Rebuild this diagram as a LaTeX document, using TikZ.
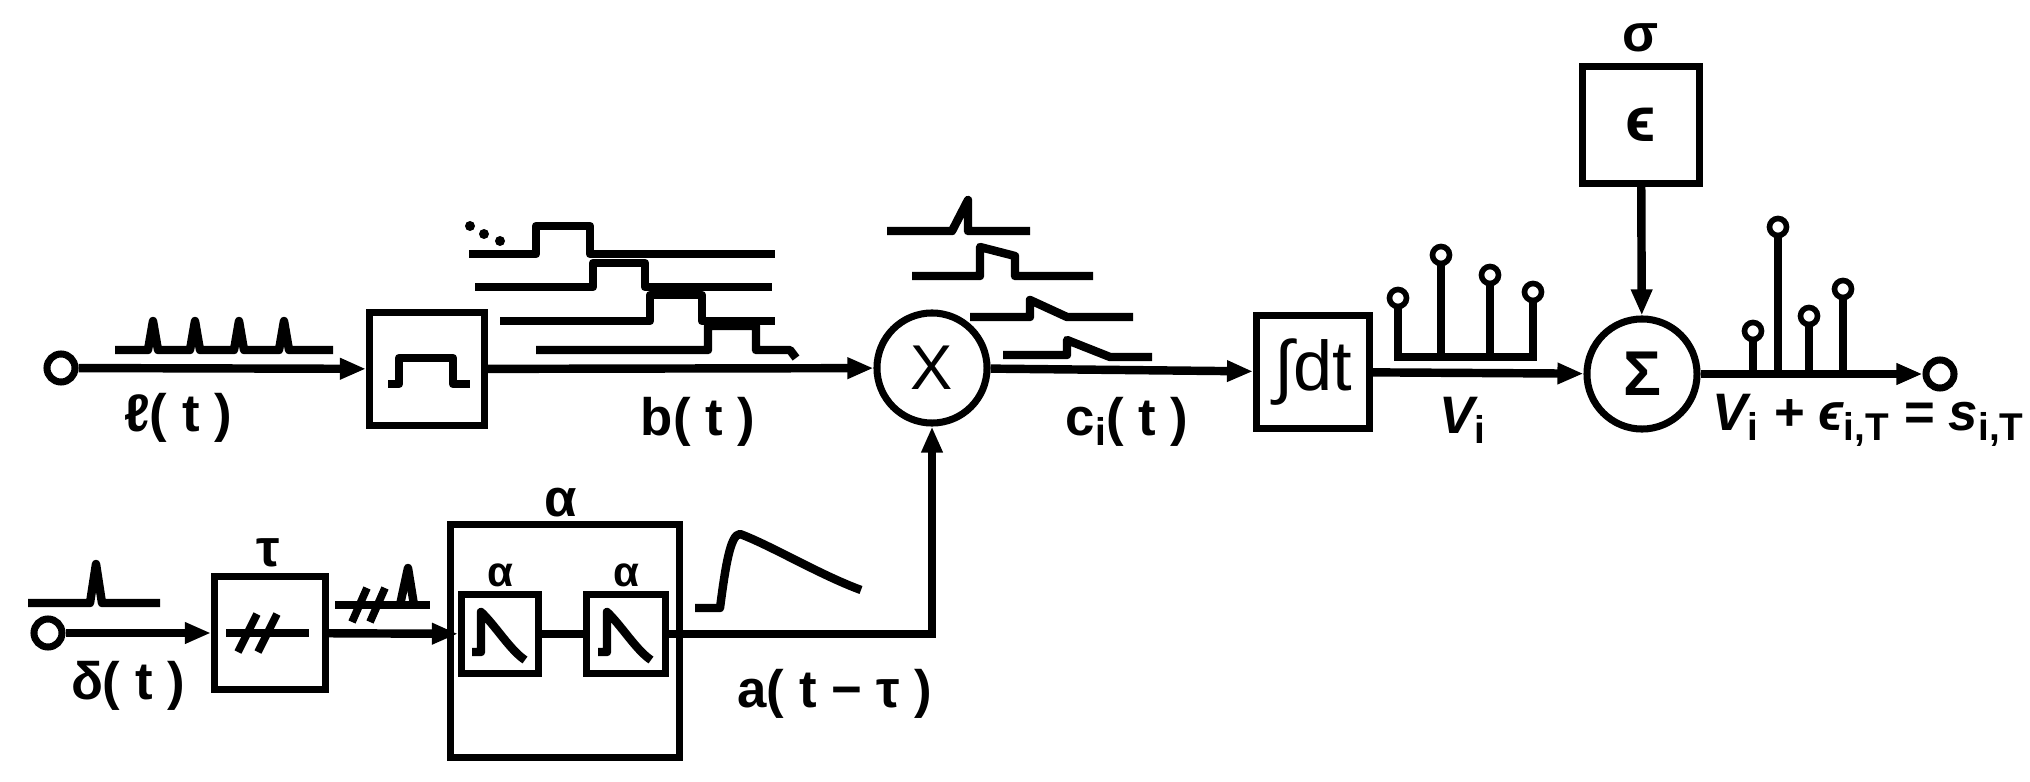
\documentclass[tikz,border=0pt]{standalone}
\usepackage{fontspec}
\setmainfont{Liberation Sans}
\usetikzlibrary{arrows.meta}
\newcommand{\sbs}[1]{\raisebox{-0.35ex}{\fontsize{11}{12}\selectfont\upshape #1}}
\begin{document}
\begin{tikzpicture}[x=0.01cm,y=-0.01cm,
  ln/.style={line width=2.2pt},
  wv/.style={line width=2.4pt,line join=round},
  arr/.style={line width=2.4pt,-{Triangle[length=0.26cm,width=0.2cm]}},
  box/.style={draw,line width=2pt,minimum width=#1,inner sep=0pt},
  rnd/.style={draw,circle,line width=2pt,inner sep=0pt,minimum size=#1},
  term/.style={draw,circle,line width=2pt,inner sep=0pt,minimum size=0.28cm},
  pin/.style={draw,circle,line width=1.6pt,inner sep=0pt,minimum size=0.17cm},
  lab/.style={font=\fontsize{15}{18}\selectfont\bfseries},
  slab/.style={font=\fontsize{12}{14}\selectfont\bfseries}]
\useasboundingbox (0,0) rectangle (2030,782);
% main path nodes
\node[term] (in) at (61,368) {};
\node[box=1.15cm,minimum height=1.12cm] (b1) at (427,369) {};
\node[rnd=1.1cm] (mul) at (932,368) {\fontsize{18}{22}\selectfont X};
\node[box=1.13cm,minimum height=1.12cm] (int) at (1313,372) {\fontsize{20}{24}\selectfont ∫dt};
\node[rnd=1.1cm] (sum) at (1642,374) {\fontsize{18}{22}\selectfont\bfseries Σ};
\node[term] (out) at (1940,374) {};
\node[box=1.17cm,minimum height=1.16cm] (eps) at (1641,125) {\fontsize{18}{22}\selectfont\bfseries ϵ};
\node[lab] (sig) at (1641,38) {σ};
\draw[arr] (in) -- (b1);
\draw[arr] (b1) -- (mul);
\draw[arr] (mul) -- (int);
\draw[arr] (int) -- (sum);
\draw[arr] (sum) -- (out);
\draw[arr] (eps) -- (sum);
% box1 icon
\draw[wv] (388,384) -- (399,384) -- (399,358) -- (453,358) -- (453,384) -- (470,384);
% labels
\node[lab] (lt) at (178,418) {ℓ( t )};
\node[lab] (bt) at (698,422) {b( t )};
\node[lab] (ct) at (1127,422) {c\sbs{i}( t )};
\node[lab] (vt) at (1462,420) {\itshape V\sbs{i}};
\node[lab,anchor=west] (ot) at (1700,420) {\itshape V\sbs{i} + ϵ\sbs{i,T} = s\sbs{i,T}};
% l(t) pulse train
\draw[wv] (115,350) -- (148,350) -- (153,321) -- (158,350) -- (190,350) -- (195,321) -- (200,350)
  -- (234,350) -- (239,321) -- (244,350) -- (279,350) -- (284,321) -- (289,350) -- (333,350);
% b(t) waveforms
\foreach \p in {(470,226),(484,234),(500,241)} \fill \p circle (5);
\draw[wv] (469,254) -- (536,254) -- (536,226) -- (590,226) -- (590,254) -- (775,254);
\draw[wv] (475,287) -- (593,287) -- (593,263) -- (645,263) -- (645,287) -- (772,287);
\draw[wv] (500,321) -- (650,321) -- (650,295) -- (702,295) -- (702,321) -- (775,321);
\draw[wv] (536,350) -- (708,350) -- (708,326) -- (756,326) -- (756,350) -- (790,350) -- (796,358);
% c_i waveforms
\draw[wv] (887,231) -- (952,231) -- (968,200) -- (968,231) -- (1030,231);
\draw[wv] (912,276) -- (980,276) -- (980,247) -- (1015,256) -- (1015,276) -- (1093,276);
\draw[wv] (970,317) -- (1030,317) -- (1030,300) -- (1067,317) -- (1133,317);
\draw[wv] (1003,355) -- (1067,355) -- (1067,340) -- (1110,357) -- (1152,357);
% V_i stems
\draw[ln] (1398,305) -- (1398,357) -- (1533,357) -- (1533,298);
\draw[ln] (1441,262) -- (1441,357);
\draw[ln] (1490,282) -- (1490,357);
\node[pin,fill=white] (p1) at (1398,298) {};
\node[pin,fill=white] (p2) at (1441,255) {};
\node[pin,fill=white] (p3) at (1490,275) {};
\node[pin,fill=white] (p4) at (1533,292) {};
% output stems
\draw[ln] (1753,374) -- (1753,337);
\draw[ln] (1778,374) -- (1778,233);
\draw[ln] (1809,374) -- (1809,323);
\draw[ln] (1843,374) -- (1843,295);
\node[pin,fill=white] (q1) at (1753,331) {};
\node[pin,fill=white] (q2) at (1778,227) {};
\node[pin,fill=white] (q3) at (1809,316) {};
\node[pin,fill=white] (q4) at (1843,289) {};
% lower branch
\node[term] (din) at (48,633) {};
\node[lab] (dt) at (128,686) {δ( t )};
\draw[wv] (28,603) -- (90,603) -- (96,564) -- (102,603) -- (160,603);
\node[box=1.11cm,minimum height=1.13cm] (tau) at (270,633) {};
\node[lab] (taul) at (268,553) {τ};
\draw[wv] (226,633) -- (309,633);
\draw[ln] (238,652) -- (257,614);
\draw[ln] (258,652) -- (277,614);
\draw[wv] (335,605) -- (430,605);
\draw[ln] (352,622) -- (367,588);
\draw[ln] (370,622) -- (385,588);
\draw[wv] (400,605) -- (408,568) -- (414,605);
\node[box=2.29cm,minimum height=2.32cm] (abox) at (565,641) {};
\node[lab] (al) at (561,503) {α};
\node[box=0.77cm,minimum height=0.78cm] (s1) at (500,634) {};
\node[box=0.79cm,minimum height=0.78cm] (s2) at (626,634) {};
\node[slab] (s1l) at (500,575) {α};
\node[slab] (s2l) at (626,575) {α};
\draw[wv] (472,652) -- (481,652) -- (481,612) .. controls (495,625) and (510,650) .. (525,660);
\draw[wv] (598,652) -- (607,652) -- (607,612) .. controls (621,625) and (636,650) .. (651,660);
\draw[arr] (din) -- (tau);
\draw[arr] (tau) -- (s1);
\draw[ln] (s1) -- (s2);
\coordinate (corner) at (mul.south |- s2.east);
\draw[arr] (s2.east) -- (corner) -- (mul.south);
\draw[wv] (695,608) -- (720,608) .. controls (725,570) and (730,534) .. (740,534)
  .. controls (770,545) and (820,575) .. (861,590);
\node[lab] (at) at (835,694) {a( t − τ )};
\end{tikzpicture}
\end{document}
